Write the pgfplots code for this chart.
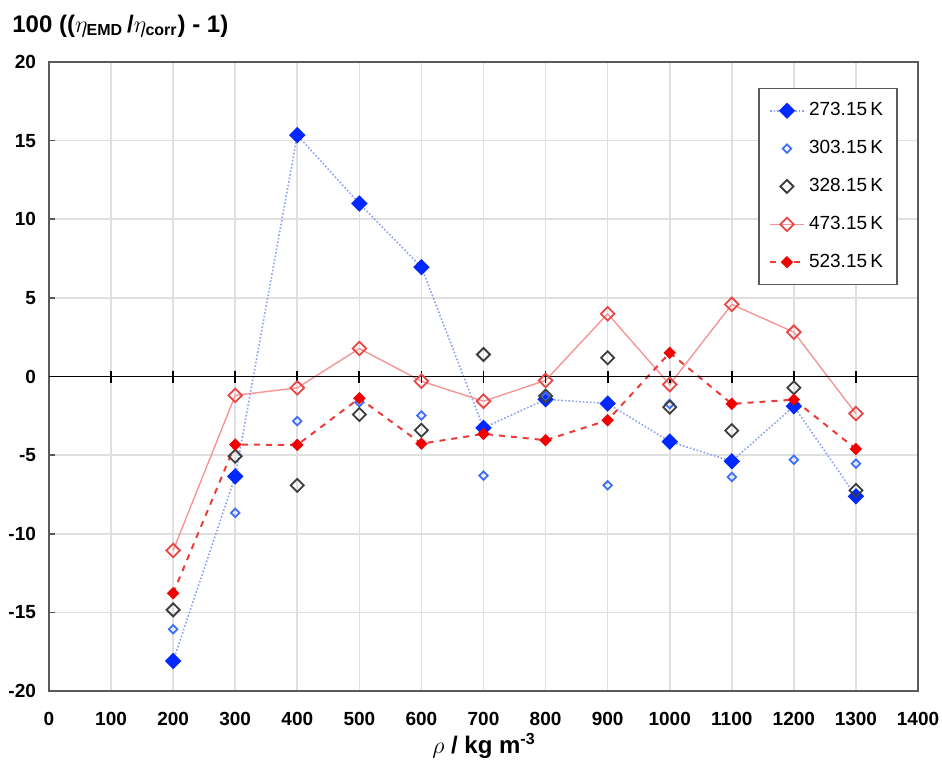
\documentclass[border=0pt]{standalone}
\usepackage{fontspec}
\setmainfont{Liberation Sans}
\usepackage{amsmath}
\usepackage{pgfplots}
\pgfplotsset{compat=1.18}
\definecolor{bfill}{RGB}{0,40,255}
\definecolor{bline}{RGB}{140,160,245}
\definecolor{bopen}{RGB}{60,110,250}
\definecolor{kopen}{RGB}{60,60,60}
\definecolor{ropen}{RGB}{235,70,70}
\definecolor{rline}{RGB}{245,150,150}
\definecolor{rfill}{RGB}{240,0,0}
\definecolor{rdash}{RGB}{235,60,60}
\definecolor{frame}{RGB}{90,90,90}
\begin{document}
\begin{tikzpicture}[x=1pt,y=1pt]
\useasboundingbox (0pt,0pt) rectangle (471pt,384pt);
\begin{axis}[
  at={(24.5pt,38.5pt)}, anchor=south west,
  scale only axis, width=434.5pt, height=314.5pt,
  xmin=0,xmax=1400,ymin=-20,ymax=20,
  xtick={0,100,...,1400}, ytick={-20,-15,...,20},
  grid=major, grid style={gray!25, line width=0.8pt},
  axis line style={frame, line width=0.9pt},
  x tick style={draw=none},
  y tick style={frame, line width=0.8pt},
  tick align=inside, major tick length=3pt,
  ytick pos=left,
  /pgf/number format/assume math mode=true,
  /pgf/number format/set thousands separator={},
  ticklabel style={font=\bfseries\fontsize{9.5}{10}\selectfont},
  xticklabel style={yshift=-7pt},
  yticklabel style={xshift=-3pt},
  legend style={at={(0.816,0.959)}, anchor=north west, draw=frame, line width=0.8pt,
    font=\fontsize{9.5}{11}\selectfont, row sep=6.8pt, inner sep=5pt,
    /tikz/every even column/.append style={column sep=2pt}},
  legend cell align=left,
]
\addplot[color=bline, densely dotted, line width=0.8pt, mark=square*,
  mark options={rotate=45, solid, fill=bfill, draw=bfill, mark size=2.5pt}]
coordinates {(200,-18.09) (300,-6.35) (400,15.35) (500,11.0) (600,6.95) (700,-3.27)
 (800,-1.45) (900,-1.72) (1000,-4.14) (1100,-5.39) (1200,-1.89) (1300,-7.62)};
\addlegendentry{273.15\,K}
\addplot[only marks, mark=square, mark options={rotate=45, draw=bopen, fill=white, line width=0.9pt, mark size=1.5pt}]
coordinates {(200,-16.07) (300,-8.67) (400,-2.84) (500,-1.64) (600,-2.48) (700,-6.3)
 (800,-1.3) (900,-6.92) (1000,-1.75) (1100,-6.39) (1200,-5.29) (1300,-5.54)};
\addlegendentry{303.15\,K}
\addplot[only marks, mark=square, mark options={rotate=45, draw=kopen, fill=white, line width=0.9pt, mark size=2.3pt}]
coordinates {(200,-14.84) (300,-5.07) (400,-6.92) (500,-2.42) (600,-3.42) (700,1.4)
 (800,-1.24) (900,1.19) (1000,-1.95) (1100,-3.44) (1200,-0.72) (1300,-7.24)};
\addlegendentry{328.15\,K}
\addplot[color=rline, line width=0.7pt, mark=square,
  mark options={rotate=45, solid, draw=ropen, fill=white, line width=0.9pt, mark size=2.4pt}]
coordinates {(200,-11.06) (300,-1.2) (400,-0.72) (500,1.78) (600,-0.3) (700,-1.57)
 (800,-0.25) (900,3.99) (1000,-0.51) (1100,4.59) (1200,2.82) (1300,-2.36)};
\addlegendentry{473.15\,K}
\addplot[color=rdash, dashed, line width=1pt, mark=square*,
  mark options={rotate=45, solid, draw=rfill, fill=rfill, mark size=1.7pt}]
coordinates {(200,-13.78) (300,-4.33) (400,-4.35) (500,-1.38) (600,-4.27) (700,-3.65)
 (800,-4.05) (900,-2.78) (1000,1.51) (1100,-1.74) (1200,-1.47) (1300,-4.61)};
\addlegendentry{523.15\,K}
\draw[black, line width=0.9pt] (axis cs:0,0) -- (axis cs:1400,0);
\pgfplotsinvokeforeach{100,200,...,1300}{
  \draw[black, line width=0.9pt] ([yshift=-3pt]axis cs:#1,0) -- ([yshift=3pt]axis cs:#1,0);
}
\end{axis}
\node[anchor=west, inner sep=0pt, font=\bfseries\fontsize{12}{13}\selectfont] at (6pt,371pt)
  {100 (($\eta_{\textbf{EMD}}$\,/$\eta_{\textbf{corr}}$) - 1)};
\node[inner sep=0pt, font=\bfseries\fontsize{12}{13}\selectfont] at (242pt,11pt)
  {$\rho$ / kg m\textsuperscript{-3}};
\end{tikzpicture}
\end{document}
